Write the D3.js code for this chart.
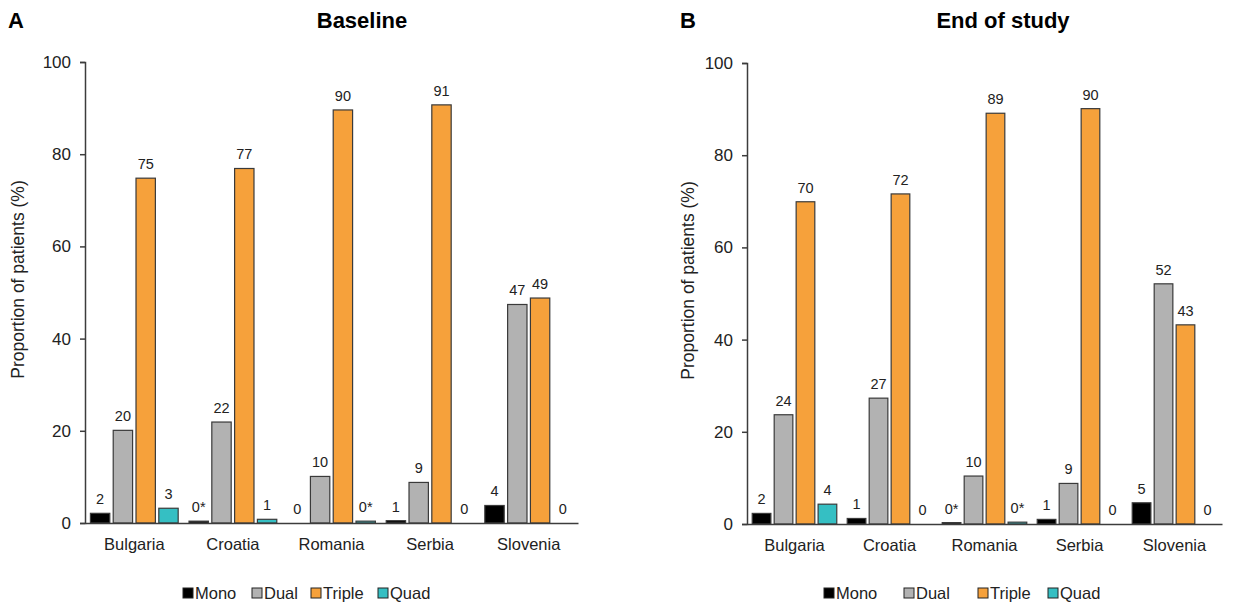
<!DOCTYPE html>
<html>
<head>
<meta charset="utf-8">
<script src="https://cdn.jsdelivr.net/npm/d3@7/dist/d3.min.js"></script>
<style>
    body { margin: 0; background: #fff; }
    svg { font-family: "Liberation Sans", Arial, sans-serif; }
</style>
</head>
<body>
<svg id="chart" width="1260" height="605"></svg>
<script>
const countries = ['Bulgaria', 'Croatia', 'Romania', 'Serbia', 'Slovenia'];
const regimens = ['Mono', 'Dual', 'Triple', 'Quad'];
const regimenColors = ['#000000', '#b2b2b2', '#f6a13b', '#35bfc3'];
const yTicks = [0, 20, 40, 60, 80, 100];

// bar heights, one row per country (Mono, Dual, Triple, Quad)
const baselineValues = [
    [2.1, 20.1, 74.8, 3.2],
    [0.4, 21.9, 76.9, 0.8],
    [0, 10.1, 89.6, 0.4],
    [0.5, 8.8, 90.7, 0],
    [3.8, 47.4, 48.8, 0],
];
const baselineLabels = [
    ['2', '20', '75', '3'],
    ['0*', '22', '77', '1'],
    ['0', '10', '90', '0*'],
    ['1', '9', '91', '0'],
    ['4', '47', '49', '0'],
];

const endValues = [
    [2.3, 23.7, 69.9, 4.3],
    [1.2, 27.3, 71.6, 0],
    [0.3, 10.4, 89.1, 0.4],
    [1.0, 8.8, 90.1, 0],
    [4.6, 52.1, 43.2, 0],
];
const endLabels = [
    ['2', '24', '70', '4'],
    ['1', '27', '72', '0'],
    ['0*', '10', '89', '0*'],
    ['1', '9', '90', '0'],
    ['5', '52', '43', '0'],
];

const svg = d3.select('#chart');
const axisColor = '#3c3c3c';

const panels = [
    {
        letter: 'A', letterX: 8, title: 'Baseline', titleX: 362,
        left: 85, right: 578, top: 62, bottom: 523, yLabelX: 24,
        legendX: [183, 252, 311, 378],
        values: baselineValues, labels: baselineLabels,
    },
    {
        letter: 'B', letterX: 680, title: 'End of study', titleX: 1003,
        left: 747, right: 1222, top: 63, bottom: 524, yLabelX: 694,
        legendX: [824, 904, 978, 1048],
        values: endValues, labels: endLabels,
    },
];

function drawPanel(p) {
    const g = svg.append('g');

    const x = d3.scaleBand()
        .domain(countries)
        .range([p.left, p.right])
        .paddingInner(0.11)
        .paddingOuter(0.055);
    const xInner = d3.scaleBand()
        .domain(regimens)
        .range([0, x.bandwidth()])
        .paddingInner(0.15);
    const y = d3.scaleLinear()
        .domain([0, 100])
        .range([p.bottom, p.top]);
    const color = d3.scaleOrdinal().domain(regimens).range(regimenColors);

    // panel letter + title
    g.append('text')
        .attr('x', p.letterX)
        .attr('y', 28)
        .attr('font-size', 22)
        .attr('font-weight', 'bold')
        .text(p.letter);
    g.append('text')
        .attr('x', p.titleX)
        .attr('y', 28)
        .attr('text-anchor', 'middle')
        .attr('font-size', 22)
        .attr('font-weight', 'bold')
        .text(p.title);

    // bars
    countries.forEach((c, i) => {
        regimens.forEach((r, j) => {
            const v = p.values[i][j];
            const bx = x(c) + xInner(r);
            if (v > 0) {
                g.append('rect')
                    .attr('x', bx)
                    .attr('y', y(v))
                    .attr('width', xInner.bandwidth())
                    .attr('height', y(0) - y(v))
                    .attr('fill', color(r))
                    .attr('stroke', '#3a3a3a')
                    .attr('stroke-width', 1.2);
            }
            g.append('text')
                .attr('x', bx + xInner.bandwidth() / 2)
                .attr('y', y(v) - 9)
                .attr('text-anchor', 'middle')
                .attr('font-size', 14.5)
                .attr('fill', '#222')
                .text(p.labels[i][j]);
        });
    });

    // y axis
    const yAxis = g.append('g')
        .attr('transform', `translate(${p.left},0)`)
        .call(d3.axisLeft(y).tickValues(yTicks).tickSize(5).tickPadding(9));
    yAxis.select('.domain').attr('stroke', axisColor).attr('stroke-width', 1.5);
    yAxis.selectAll('.tick line').attr('stroke', axisColor).attr('stroke-width', 1.5);
    yAxis.selectAll('.tick text')
        .attr('font-size', 17)
        .attr('font-family', '"Liberation Sans", Arial, sans-serif')
        .attr('fill', '#222');

    // x axis: baseline only, labels under each band
    const xAxis = g.append('g')
        .attr('transform', `translate(0,${p.bottom})`)
        .call(d3.axisBottom(x).tickSize(0).tickPadding(15));
    xAxis.select('.domain').attr('stroke', axisColor).attr('stroke-width', 1.5);
    xAxis.selectAll('.tick text')
        .attr('font-size', 16.5)
        .attr('font-family', '"Liberation Sans", Arial, sans-serif')
        .attr('fill', '#222');

    // y label
    g.append('text')
        .attr('transform', `translate(${p.yLabelX},${(p.top + p.bottom) / 2 - 13}) rotate(-90)`)
        .attr('text-anchor', 'middle')
        .attr('font-size', 17.5)
        .attr('fill', '#222')
        .text('Proportion of patients (%)');

    // legend
    regimens.forEach((r, j) => {
        g.append('rect')
            .attr('x', p.legendX[j])
            .attr('y', 588)
            .attr('width', 10)
            .attr('height', 10)
            .attr('fill', color(r))
            .attr('stroke', '#222')
            .attr('stroke-width', 1);
        g.append('text')
            .attr('x', p.legendX[j] + 12)
            .attr('y', 599)
            .attr('font-size', 16.5)
            .attr('fill', '#222')
            .text(r);
    });
}

panels.forEach(drawPanel);
</script>
</body>
</html>
